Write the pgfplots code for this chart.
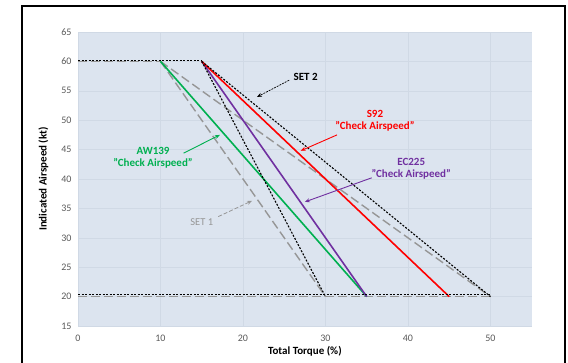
\documentclass[border=0pt]{standalone}
\usepackage{pgfplots}
\pgfplotsset{compat=1.18}
\usepackage{fontspec}
\setmainfont{Carlito}
\usetikzlibrary{arrows.meta}
\definecolor{bgblue}{RGB}{220,228,239}
\definecolor{gridc}{RGB}{208,217,229}
\definecolor{tickc}{RGB}{89,89,89}
\definecolor{cgreen}{RGB}{0,176,80}
\definecolor{cred}{RGB}{255,0,0}
\definecolor{cpurple}{RGB}{112,48,160}
\definecolor{cgray}{RGB}{150,150,150}
\begin{document}
\begin{tikzpicture}[x=1pt,y=1pt]
\path[use as bounding box] (0,0) rectangle (568,363);
\draw[line width=2pt] (22,357) rectangle (565,-10);
\begin{axis}[
  at={(78pt,37pt)}, anchor=south west,
  scale only axis, width=453.7pt, height=294pt,
  xmin=0, xmax=55, ymin=15, ymax=65,
  xtick={0,10,...,50}, ytick={15,20,...,65},
  axis background/.style={fill=bgblue},
  axis line style={draw=none},
  major tick length=0pt,
  grid=major, major grid style={gridc, line width=0.5pt},
  /pgf/number format/assume math mode=true,
  ticklabel style={font=\fontsize{10}{11}\selectfont, text=tickc},
  xticklabel style={yshift=-5pt},
  yticklabel style={xshift=-3pt},
  xlabel={\textbf{Total Torque (\%)}},
  ylabel={\textbf{Indicated Airspeed (kt)}},
  label style={font=\fontsize{11}{12}\selectfont},
  xlabel style={yshift=2pt},
  ylabel style={yshift=6pt},
  clip=false,
]
% SET 1 (gray dashed)
\addplot[cgray, line width=1.4pt, dash pattern=on 9pt off 4pt] coordinates {(0,60) (10,60)};
\addplot[cgray, line width=1.4pt, dash pattern=on 9pt off 4pt] coordinates {(10,60) (30,20)};
\addplot[cgray, line width=1.4pt, dash pattern=on 9pt off 4pt] coordinates {(10,60) (50,20)};
\addplot[cgray, line width=1.4pt, dash pattern=on 9pt off 4pt] coordinates {(0,20) (50,20)};
% helicopters
\addplot[cgreen, line width=1.6pt] coordinates {(10,60) (35,20)};
\addplot[cpurple, line width=1.6pt] coordinates {(15,60) (35,20)};
\addplot[cred, line width=1.6pt] coordinates {(15,60) (45,20)};
% SET 2 (black dotted)
\addplot[black, line width=1.1pt, dash pattern=on 2pt off 1.5pt] coordinates {(0,60.2) (15,60.2)};
\addplot[black, line width=1.1pt, dash pattern=on 2pt off 1.5pt] coordinates {(15,60) (30,20)};
\addplot[black, line width=1.1pt, dash pattern=on 2pt off 1.5pt] coordinates {(15,60) (50,20)};
\addplot[black, line width=1.1pt, dash pattern=on 2pt off 1.5pt] coordinates {(0,20.3) (50,20.3)};
% annotations
\node[font=\fontsize{11}{12}\selectfont\bfseries] at (axis cs:27.6,57.3) {SET 2};
\draw[black, line width=0.7pt, dash pattern=on 2pt off 1pt, -{Stealth[length=5pt,width=4pt]}] (axis cs:25.6,56.8) -- (axis cs:21.7,53.95);
\node[font=\fontsize{11}{12}\selectfont\bfseries, text=cred, align=center] at (axis cs:36,49.85) {S92\\"Check Airspeed"};
\draw[cred, line width=0.9pt, -{Stealth[length=5pt,width=4pt]}] (axis cs:31.4,47.5) -- (axis cs:27.0,44.8);
\node[font=\fontsize{11}{12}\selectfont\bfseries, text=cpurple, align=center] at (axis cs:40.4,41.7) {EC225\\"Check Airspeed"};
\draw[cpurple, line width=0.9pt, -{Stealth[length=5pt,width=4pt]}] (axis cs:35.6,40.2) -- (axis cs:27.5,36.1);
\node[font=\fontsize{11}{12}\selectfont\bfseries, text=cgreen, align=center] at (axis cs:9.1,43.65) {AW139\\"Check Airspeed"};
\draw[cgreen, line width=0.9pt, -{Stealth[length=5pt,width=4pt]}] (axis cs:12.8,44.4) -- (axis cs:17.2,47.5);
\node[font=\fontsize{10.5}{12}\selectfont, text=cgray] at (axis cs:15.0,32.7) {SET 1};
\draw[cgray, line width=0.8pt, dash pattern=on 4pt off 2pt, -{Stealth[length=5pt,width=4pt]}] (axis cs:17.0,33.6) -- (axis cs:21.1,36.3);
\end{axis}
\end{tikzpicture}
\end{document}
